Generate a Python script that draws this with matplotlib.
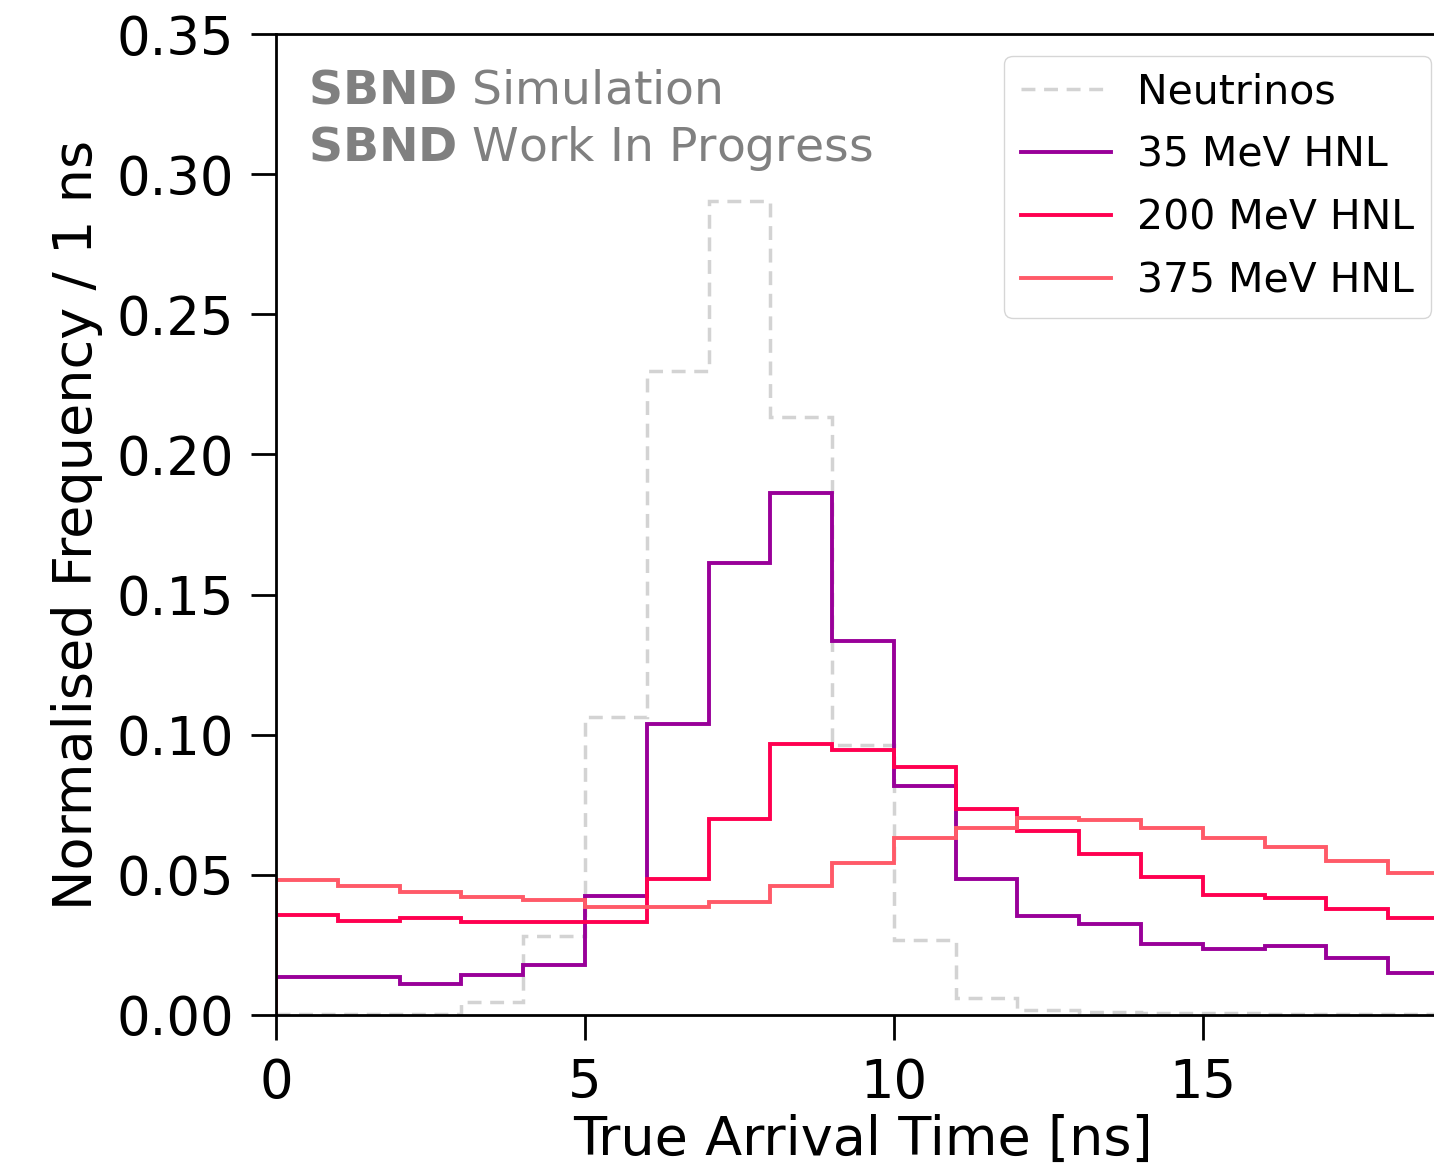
import numpy as np
import matplotlib
matplotlib.use("Agg")
import matplotlib.pyplot as plt

# bin edges in ns (1 ns bins)
edges = np.arange(0, 20, 1)

neutrinos = [0.0005, 0.0005, 0.0005, 0.0048, 0.0283, 0.1063, 0.2298, 0.2904, 0.2133, 0.0963,
             0.0268, 0.0060, 0.0018, 0.0010, 0.0008, 0.0006, 0.0005, 0.0004, 0.0003]
hnl_35 = [0.0137, 0.0137, 0.0110, 0.0143, 0.0178, 0.0426, 0.1038, 0.1613, 0.1862, 0.1334,
          0.0817, 0.0484, 0.0353, 0.0324, 0.0252, 0.0235, 0.0246, 0.0205, 0.0149]
hnl_200 = [0.0357, 0.0335, 0.0345, 0.0333, 0.0333, 0.0333, 0.0485, 0.0700, 0.0966, 0.0945,
           0.0884, 0.0734, 0.0656, 0.0573, 0.0494, 0.0428, 0.0419, 0.0377, 0.0345]
hnl_375 = [0.0482, 0.0460, 0.0438, 0.0420, 0.0410, 0.0387, 0.0387, 0.0403, 0.0460, 0.0541,
           0.0630, 0.0668, 0.0704, 0.0696, 0.0668, 0.0630, 0.0600, 0.0550, 0.0508]

fig = plt.figure(figsize=(14.34, 11.75), dpi=100)
# axes runs slightly past the right edge of the picture, like the cropped original
ax = fig.add_axes([276 / 1434, 160 / 1175, 1174 / 1434, 981 / 1175])

ax.stairs(neutrinos, edges, color="#d3d3d3", linestyle=(0, (4, 2.5)), linewidth=2.5,
          label="Neutrinos", baseline=None)
ax.stairs(hnl_35, edges, color="#990099", linewidth=2.8, label="35 MeV HNL", baseline=0)
ax.stairs(hnl_200, edges, color="#ff0050", linewidth=2.8, label="200 MeV HNL", baseline=0)
ax.stairs(hnl_375, edges, color="#ff5a68", linewidth=2.8, label="375 MeV HNL", baseline=0)

ax.set_xlim(0, 19)
ax.set_ylim(0, 0.35)
ax.set_xticks([0, 5, 10, 15])
ax.set_yticks(np.arange(0, 0.351, 0.05))
ax.yaxis.set_major_formatter(matplotlib.ticker.FormatStrFormatter("%.2f"))

ax.set_xlabel("True Arrival Time [ns]", fontsize=39, labelpad=4)
ax.set_ylabel("Normalised Frequency / 1 ns", fontsize=39, labelpad=10)
ax.tick_params(labelsize=38, length=18, width=2, pad=12)
for s in ax.spines.values():
    s.set_linewidth(2)

# label in the top left
ax.text(0.027, 0.965, r"$\mathbf{SBND}$ Simulation", transform=ax.transAxes,
        fontsize=34, color="gray", va="top")
ax.text(0.027, 0.908, r"$\mathbf{SBND}$ Work In Progress", transform=ax.transAxes,
        fontsize=34, color="gray", va="top")

ax.legend(loc="upper right", bbox_to_anchor=(1431 / 1434, 1 - 56 / 1175),
          bbox_transform=fig.transFigure, borderaxespad=0, fontsize=29.5,
          handlelength=2.2, handletextpad=0.65, labelspacing=0.56, borderpad=0.4)

fig.savefig("out.png", dpi=100)
